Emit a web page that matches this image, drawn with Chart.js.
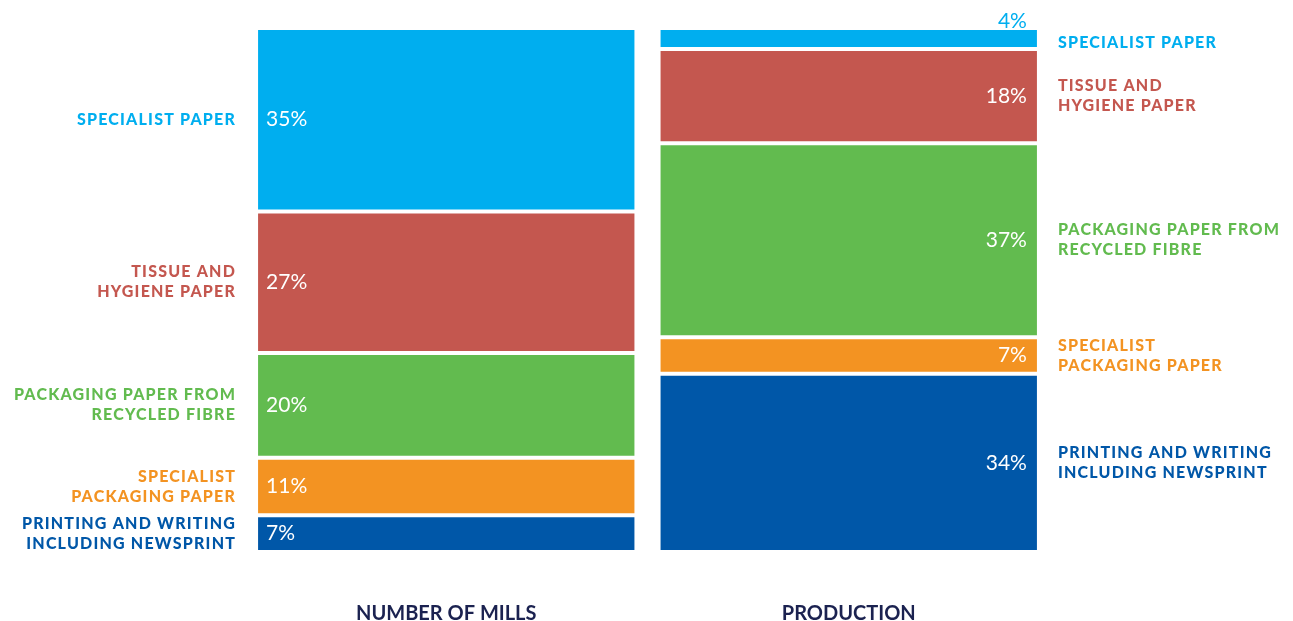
<!DOCTYPE html>
<html>
<head>
<meta charset="utf-8">
<script src="https://cdn.jsdelivr.net/npm/chart.js@4"></script>
<style>
  html, body { margin: 0; padding: 0; background: #fff; }
  #wrap { width: 1293px; height: 621px; position: relative; }
</style>
</head>
<body>
<div id="wrap"><canvas id="chart"></canvas></div>
<script>
const columns = ['NUMBER OF MILLS', 'PRODUCTION']
const segmentNames = [
  ['PRINTING AND WRITING', 'INCLUDING NEWSPRINT'],
  ['SPECIALIST', 'PACKAGING PAPER'],
  ['PACKAGING PAPER FROM', 'RECYCLED FIBRE'],
  ['TISSUE AND', 'HYGIENE PAPER'],
  ['SPECIALIST PAPER']
]
const segmentColors = ['#0057a8', '#f39322', '#62bb4f', '#c4574f', '#00aeef']
const millsShare = [7, 11, 20, 27, 35]
const productionShare = [34, 7, 37, 18, 4]

const labelFont = '900 16px Lato'

// side labels and percentages, placed from the bar elements
const segmentLabels = {
  id: 'segmentLabels',
  afterDatasetsDraw(chart) {
    const ctx = chart.ctx
    ctx.save()
    ctx.textBaseline = 'middle'
    chart.data.datasets.forEach((ds, i) => {
      const meta = chart.getDatasetMeta(i)
      meta.data.forEach((bar, j) => {
        const top = Math.min(bar.y, bar.base)
        const bottom = Math.max(bar.y, bar.base)
        const mid = (top + bottom) / 2
        const left = bar.x - bar.width / 2
        const right = bar.x + bar.width / 2
        const lines = segmentNames[i]
        const thin = bottom - top < 26

        // percentage
        ctx.font = '21px Lato'
        ctx.letterSpacing = '0px'
        ctx.fillStyle = '#ffffff'
        if (j === 0) {
          ctx.textAlign = 'left'
          ctx.fillText(ds.data[j] + '%', left + 10, mid)
        } else {
          ctx.textAlign = 'right'
          if (thin) {
            ctx.fillStyle = ds.backgroundColor
            ctx.fillText(ds.data[j] + '%', right - 12, top - 7)
          } else {
            ctx.fillText(ds.data[j] + '%', right - 12, mid)
          }
        }

        // category names
        ctx.font = labelFont
        ctx.letterSpacing = '1.2px'
        ctx.fillStyle = ds.backgroundColor
        let cy = mid
        if (j === 1 && thin) cy = mid + 4
        const y0 = cy - (lines.length - 1) * 10
        lines.forEach((line, k) => {
          if (j === 0) {
            ctx.textAlign = 'right'
            ctx.fillText(line, left - 20, y0 + k * 20)
          } else {
            ctx.textAlign = 'left'
            ctx.fillText(line, right + 19, y0 + k * 20)
          }
        })
      })
    })
    ctx.restore()
  }
}

new Chart(document.getElementById('chart'), {
  type: 'bar',
  data: {
    labels: columns,
    datasets: segmentNames.map((name, i) => ({
      label: name.join(' '),
      data: [millsShare[i], productionShare[i]],
      backgroundColor: segmentColors[i],
      borderColor: '#ffffff',
      borderWidth: 2,
      borderSkipped: false
    }))
  },
  options: {
    responsive: true,
    maintainAspectRatio: false,
    animation: false,
    barPercentage: 0.945,
    categoryPercentage: 1,
    layout: { padding: { left: 245, right: 243, top: 28, bottom: 0 } },
    plugins: {
      legend: { display: false },
      tooltip: { enabled: false }
    },
    scales: {
      x: {
        stacked: true,
        grid: { display: false },
        border: { display: false },
        ticks: {
          color: '#1b2250',
          font: { family: 'Lato', size: 20, weight: 'bold' },
          padding: 42
        },
        afterFit(scale) {
          scale.height = 69
        }
      },
      y: {
        stacked: true,
        display: false,
        min: 0,
        max: 100
      }
    }
  },
  plugins: [segmentLabels]
})
</script>
</body>
</html>
